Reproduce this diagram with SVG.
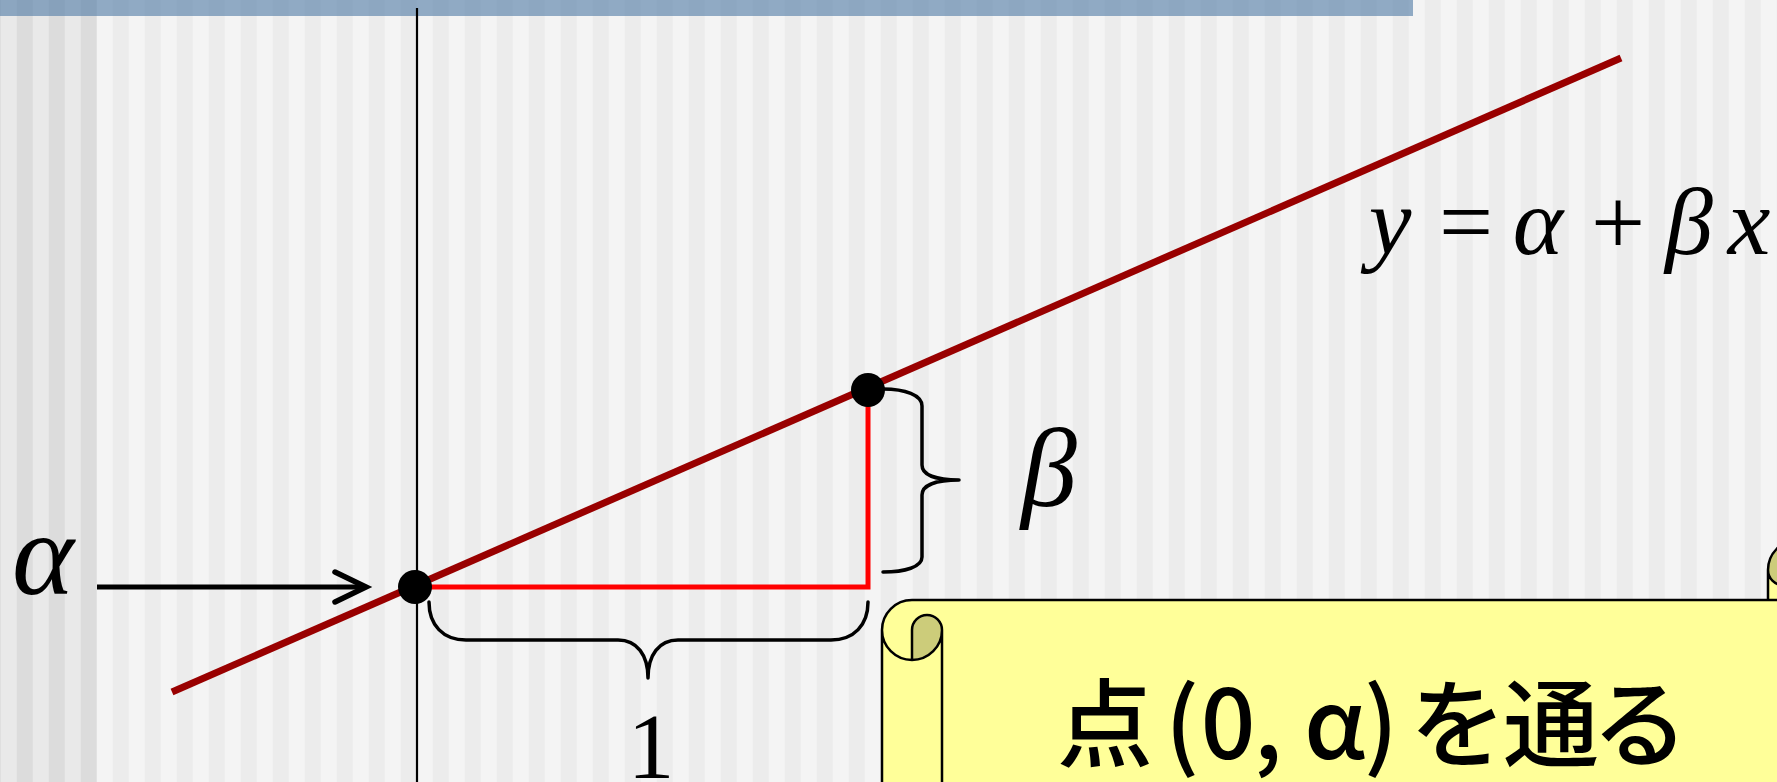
<svg xmlns="http://www.w3.org/2000/svg" width="1777" height="782" viewBox="0 0 1777 782">
<defs>
<pattern id="stripes" patternUnits="userSpaceOnUse" x="0.8" y="0" width="32" height="782">
<rect x="0" y="0" width="16" height="782" fill="#f4f4f4"/>
<rect x="16" y="0" width="16" height="782" fill="#ececec"/>
</pattern>
<pattern id="stripesDark" patternUnits="userSpaceOnUse" x="0.8" y="0" width="32" height="782">
<rect x="0" y="0" width="16" height="782" fill="#e9e9e9"/>
<rect x="16" y="0" width="16" height="782" fill="#dcdcdc"/>
</pattern>
</defs>
<style>
.math{font-family:"Liberation Serif","Times New Roman",serif;fill:#000}
.it{font-style:italic}
.jp{font-family:"Noto Sans CJK JP","Noto Sans",sans-serif;fill:#000;font-size:96px;font-weight:500}
.brace{fill:none;stroke:#000;stroke-width:3.5;stroke-linecap:round;stroke-linejoin:round}
.scroll{stroke:#000;stroke-width:2.5;stroke-linejoin:round}
</style>
<g id="background">
<rect x="0" y="0" width="1777" height="782" fill="url(#stripes)"/>
<rect x="0" y="0" width="96.8" height="782" fill="url(#stripesDark)"/>
<rect x="0" y="0" width="1413" height="16" fill="#527ca6" fill-opacity="0.62"/>
</g>
<g id="axis">
<line x1="417" y1="8" x2="417" y2="782" stroke="#000" stroke-width="2.2"/>
</g>
<g id="connectors">
<line x1="172" y1="692" x2="1621" y2="58" stroke="#990000" stroke-width="7"/>
<path d="M415,587 H868 V390" fill="none" stroke="#ff0000" stroke-width="5"/>
<line x1="97" y1="587" x2="364" y2="587" stroke="#000" stroke-width="5"/>
<path d="M335,572 L366,587 L335,602" fill="none" stroke="#000" stroke-width="5.5" stroke-linecap="round" stroke-linejoin="miter"/>
</g>
<g id="point-intercept">
<circle cx="415" cy="587" r="17" fill="#000"/>
</g>
<g id="point-slope">
<circle cx="868" cy="390" r="17" fill="#000"/>
</g>
<g id="brace-beta">
<path class="brace" d="M883,389 C905,389 922,395 922,406 L922,465 C922,475 936,480 959,480 C936,480 922,485 922,495 L922,557 C922,567 905,572 883,572"/>
</g>
<g id="brace-one">
<path class="brace" d="M429,602 C429,625 443,640 466,640 L618,640 C637,640 648,655 648,678 C648,655 659,640 678,640 L831,640 C854,640 868,625 868,602"/>
</g>
<g id="label-alpha">
<text class="math it" x="43" y="594" font-size="118" text-anchor="middle">α</text>
</g>
<g id="label-beta">
<text class="math it" x="1049" y="506" font-size="112" text-anchor="middle">β</text>
</g>
<g id="label-one">
<text class="math" x="651" y="778" font-size="94" text-anchor="middle">1</text>
</g>
<g id="equation">
<text class="math" y="254" font-size="96" text-anchor="middle"><tspan class="it" x="1390">y</tspan><tspan x="1466">=</tspan><tspan class="it" x="1538">α</tspan><tspan x="1618">+</tspan><tspan class="it" x="1689">β</tspan><tspan class="it" x="1749">x</tspan></text>
</g>
<g id="callout">
<path d="M912,600 H1768 V570 A30,30 0 0 1 1828,570 V1000 H882 V630 A30,30 0 0 1 912,600 Z" fill="#ffff99"/>
<path d="M912,660 A30,30 0 0 0 942,630 A15,15 0 0 0 912,630 Z" fill="#cccc7a"/>
<path d="M1798,600 A30,30 0 1 0 1768,570 A15,15 0 0 0 1798,570 Z" fill="#cccc7a"/>
<path class="scroll" fill="none" d="M882,1000 V630 A30,30 0 0 1 912,600 H1768 V570 A30,30 0 0 1 1828,570 V1000 M1768,600 H1798 A30,30 0 0 0 1828,570 M1798,600 V570 A15,15 0 0 1 1768,570 M912,660 V630 A15,15 0 0 1 942,630 A30,30 0 0 1 882,630 M942,630 V1000"/>
<text class="jp" y="759" text-anchor="middle"><tspan x="1105">点</tspan><tspan x="1182">(</tspan><tspan x="1228">0</tspan><tspan x="1268">,</tspan><tspan x="1335">α</tspan><tspan x="1381">)</tspan><tspan x="1458">を</tspan><tspan x="1551">通</tspan><tspan x="1640">る</tspan></text>
</g>
</svg>
